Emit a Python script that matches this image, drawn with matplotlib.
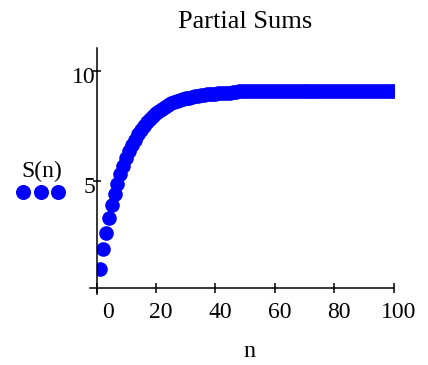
import matplotlib
matplotlib.use('Agg')
import matplotlib.pyplot as plt
from matplotlib.transforms import ScaledTranslation
from matplotlib.lines import Line2D

plt.rcParams['font.family'] = ['Liberation Serif', 'DejaVu Serif']

# ---- data ----
n_values = list(range(1, 101))
partial_sums = [
    1.00, 1.88, 2.63, 3.30, 3.88, 4.40, 4.87, 5.30, 5.68, 6.03,
    6.34, 6.62, 6.87, 7.10, 7.30, 7.48, 7.65, 7.80, 7.94, 8.06,
    8.17, 8.27, 8.36, 8.44, 8.51, 8.57, 8.62, 8.67, 8.71, 8.75,
    8.78, 8.81, 8.84, 8.86, 8.88, 8.90, 8.92, 8.94, 8.95, 8.96,
    8.97, 8.98, 8.99, 9.00, 9.00, 9.01, 9.01, 9.06, 9.06, 9.06,
    9.06, 9.06, 9.06, 9.06, 9.06, 9.06, 9.06, 9.06, 9.06, 9.06,
    9.06, 9.06, 9.06, 9.06, 9.06, 9.06, 9.06, 9.06, 9.06, 9.06,
    9.06, 9.06, 9.06, 9.06, 9.06, 9.06, 9.06, 9.06, 9.06, 9.06,
    9.06, 9.06, 9.06, 9.06, 9.06, 9.06, 9.06, 9.06, 9.06, 9.06,
    9.06, 9.06, 9.06, 9.06, 9.06, 9.06, 9.06, 9.06, 9.06, 9.06,
]
x_ticks = [0, 20, 40, 60, 80, 100]
x_tick_labels = ['0', '20', '40', '60', '80', '100']
y_ticks = [5, 10]
y_tick_labels = ['5', '10']
title_text = 'Partial Sums'
x_label_text = 'n'
y_label_text = 'S(n)'

# ---- figure ----
W, H = 428, 365
fig = plt.figure(figsize=(W / 100, H / 100), dpi=100)
ax = fig.add_axes([96.7 / W, 76.7 / H, 296.9 / W, 240.3 / H])

blue = '#0000ff'
ax.plot(n_values, partial_sums, linestyle='none', marker='o', markersize=10.5,
        color=blue, markeredgewidth=0, clip_on=True)

ymin, ymax = 0.11, 11.03
ax.set_xlim(0, 100)
ax.set_ylim(ymin, ymax)

for s in ['top', 'right']:
    ax.spines[s].set_visible(False)
for s in ['left', 'bottom']:
    ax.spines[s].set_linewidth(1.1)
    ax.spines[s].set_color('black')
ax.spines['bottom'].set_bounds(-2.2, 100)
ax.spines['left'].set_bounds(ymin - 0.25, ymax)

ax.set_xticks(x_ticks, x_tick_labels)
ax.set_yticks(y_ticks, y_tick_labels)
ax.tick_params(axis='x', direction='inout', length=7.7, width=1.1, labelsize=17, pad=6)
ax.tick_params(axis='y', direction='inout', length=5.8, width=1.1, labelsize=17, pad=-2.2)

for lab, val in zip(ax.get_xticklabels(), x_ticks):
    dx = 11 / 100 if val == 0 else 5 / 100
    lab.set_transform(lab.get_transform() + ScaledTranslation(dx, 0, fig.dpi_scale_trans))
for lab in ax.get_yticklabels():
    lab.set_transform(lab.get_transform() + ScaledTranslation(0, -4.5 / 100, fig.dpi_scale_trans))

ax.set_title(title_text, fontsize=19, pad=14.6)

fig.text(250 / W, (H - 356.7) / H, x_label_text, ha='center', va='baseline', fontsize=17.5)
fig.text(41.3 / W, (H - 177.5) / H, y_label_text, ha='center', va='baseline', fontsize=17)
legend_dots = Line2D([22.7 / W, 40.7 / W, 58 / W], [(H - 191.7) / H] * 3,
                     transform=fig.transFigure, linestyle='none', marker='o',
                     markersize=10.8, color=blue, markeredgewidth=0)
fig.add_artist(legend_dots)

fig.savefig('out.png', dpi=100)
